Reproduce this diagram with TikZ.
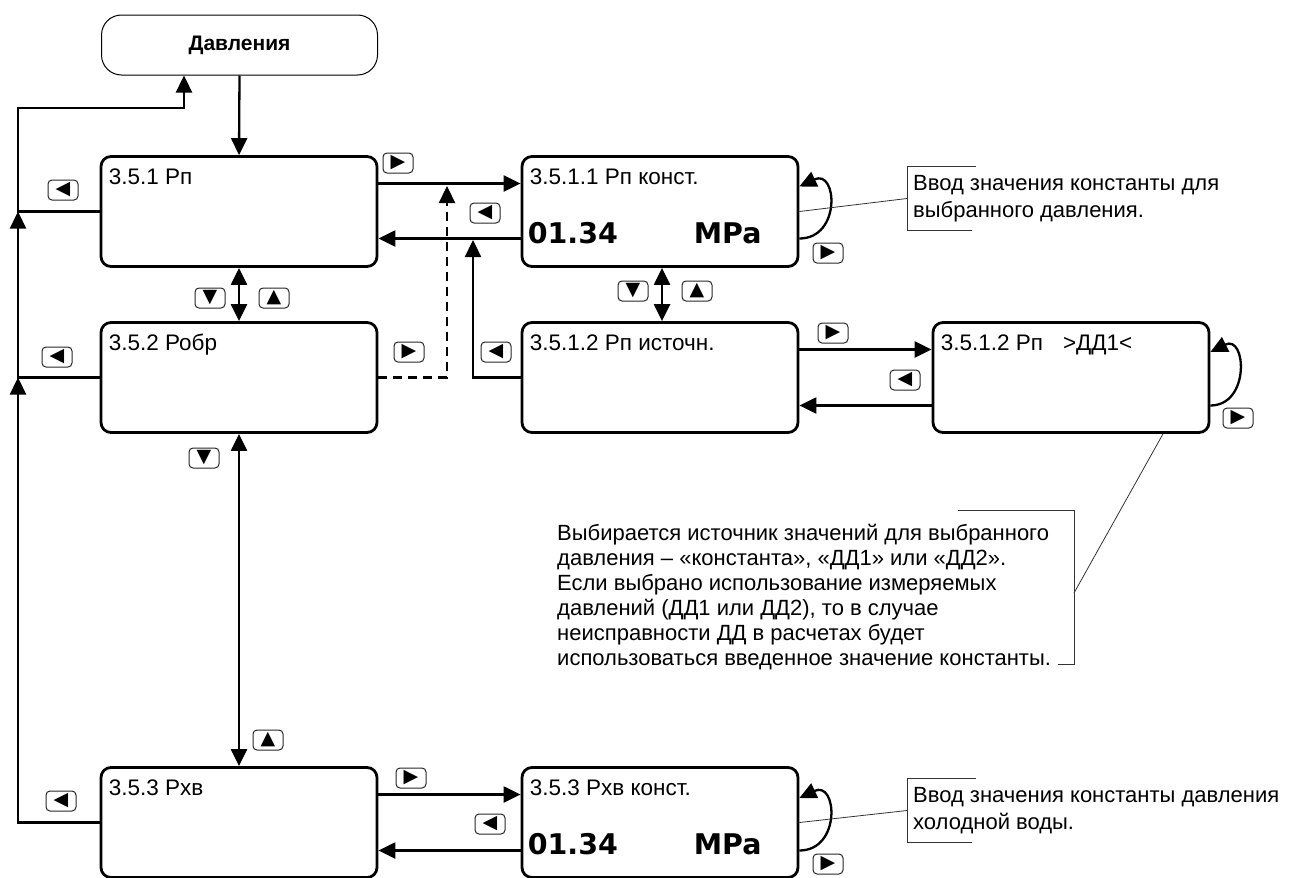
\documentclass[tikz,border=0pt]{standalone}
\usepackage{fontspec}
\setmainfont{Liberation Sans}
\newfontfamily\valfont{DejaVu Sans}
\newfontfamily\symfont{DejaVu Sans}
\usetikzlibrary{arrows.meta,positioning,calc}

\begin{document}
\begin{tikzpicture}[x=1pt, y=-1pt,
    screen/.style={draw, rounded corners=10pt, minimum width=276pt, minimum height=110pt, line width=2.8pt, inner sep=0pt},
    menu/.style={draw, rounded corners=20pt, minimum width=276pt, minimum height=60pt, line width=1pt, font=\fontsize{21}{25}\selectfont\bfseries},
    key/.style={draw=black!85, rounded corners=4pt, minimum width=30pt, minimum height=20pt, inner sep=0pt, line width=1pt, font=\symfont\fontsize{19}{19}\selectfont},
    title/.style={anchor=base west, inner sep=0pt, font=\fontsize{22.5}{26}\selectfont},
    value/.style={anchor=base west, inner sep=0pt, font=\valfont\bfseries\fontsize{28.5}{30}\selectfont},
    note/.style={align=left, inner sep=0pt, font=\fontsize{22}{27}\selectfont},
    callout/.style={draw=black!80, line width=0.8pt},
    arrow/.style={->, line width=2.3pt},
    >={Triangle[length=17pt,width=16pt]}
]
    \useasboundingbox (0,0) rectangle (1294,878);

    % меню
    \node[menu] (dav) at (239.5,45) {Давления};

    % экраны
    \node[screen] (p1) at (239,211.5) {};
    \node[screen] (p2) at (239,377.5) {};
    \node[screen] (p3) at (239,822.5) {};
    \node[screen] (k1) at (660,211.5) {};
    \node[screen] (src) at (660,377.5) {};
    \node[screen] (dd) at (1071,377.5) {};
    \node[screen] (k3) at (660,822.5) {};

    \node[title] (p1t) at ([shift={(9,29)}]p1.north west) {3.5.1 Рп};
    \node[title] (p2t) at ([shift={(9,29)}]p2.north west) {3.5.2 Робр};
    \node[title] (p3t) at ([shift={(9,29)}]p3.north west) {3.5.3 Рхв};
    \node[title] (k1t) at ([shift={(9,29)}]k1.north west) {3.5.1.1 Рп конст.};
    \node[title] (srct) at ([shift={(9,29)}]src.north west) {3.5.1.2 Рп источн.};
    \node[title] (ddt) at ([shift={(9,29)}]dd.north west) {3.5.1.2 Рп\hspace{20pt}>ДД1<};
    \node[title] (k3t) at ([shift={(9,29)}]k3.north west) {3.5.3 Рхв конст.};

    \node[value] (v1) at ([shift={(7,32)}]k1.west) {01.34};
    \node[value] (u1) at ([shift={(173,32)}]k1.west) {MPa};
    \node[value] (v3) at ([shift={(7,32)}]k3.west) {01.34};
    \node[value] (u3) at ([shift={(173,32)}]k3.west) {MPa};

    % вход и возврат
    \coordinate (rail) at (18,108);
    \draw[arrow] (dav.south) -- (p1.north);
    \draw[arrow] (p3.west) -| (rail |- p2.west);
    \draw[arrow] (p2.west) -| (rail |- p1.west);
    \draw[arrow] (p1.west) -| (rail) -| ([xshift=-55.5pt]dav.south);

    % вверх/вниз
    \draw[arrow, <->] (p1.south) -- (p2.north);
    \draw[arrow, <->] (p2.south) -- (p3.north);
    \draw[arrow, <->] ([xshift=2pt]k1.south) -- ([xshift=2pt]src.north);

    % вправо/влево
    \coordinate (dj) at (447,186);
    \coordinate (ej) at (473,240);
    \draw[arrow] ([yshift=28pt]p1.east) -- ([yshift=28pt]k1.west);
    \draw[arrow] ([yshift=-27pt]k1.west) -- ([yshift=-27pt]p1.east);
    \draw[arrow, dash pattern=on 9pt off 6pt] (p2.east) -| (dj);
    \draw[arrow] (src.west) -| (ej);
    \draw[arrow] ([yshift=28pt]src.east) -- ([yshift=28pt]dd.west);
    \draw[arrow] ([yshift=-28pt]dd.west) -- ([yshift=-28pt]src.east);
    \draw[arrow] ([yshift=28pt]p3.east) -- ([yshift=28pt]k3.west);
    \draw[arrow] ([yshift=-28pt]k3.west) -- ([yshift=-28pt]p3.east);

    % петли
    \draw[arrow] ([yshift=-27pt]k1.east) .. controls +(42,0) and +(38,-18) .. ([yshift=25pt]k1.east);
    \draw[arrow] ([yshift=-28pt]dd.east) .. controls +(40,0) and +(36,-18) .. ([yshift=25.5pt]dd.east);
    \draw[arrow] ([yshift=-28pt]k3.east) .. controls +(42,0) and +(38,-18) .. ([yshift=24.5pt]k3.east);

    % кнопки
    \node[key] (kl1) at (63,190) {◀};
    \node[key] (kl2) at (57,357) {◀};
    \node[key] (kl3) at (61,801) {◀};
    \node[key] (kr1) at (398,163) {▶};
    \node[key] (kl4) at (485,213) {◀};
    \node[key] (kr2) at (409,352) {▶};
    \node[key] (kl5) at (496,352) {◀};
    \node[key] (kd1) at (210,298) {▼};
    \node[key] (ku1) at (274,298) {▲};
    \node[key] (kd2) at (633,291) {▼};
    \node[key] (ku2) at (697,291) {▲};
    \node[key] (kr3) at (828,253) {▶};
    \node[key] (kr4) at (833,333) {▶};
    \node[key] (kl6) at (905,380) {◀};
    \node[key] (kr5) at (1238,418) {▶};
    \node[key] (kd3) at (204,458) {▼};
    \node[key] (ku3) at (268,740) {▲};
    \node[key] (kr6) at (411,778) {▶};
    \node[key] (kl7) at (490,824) {◀};
    \node[key] (kr7) at (828,864) {▶};

    % пояснения
    \node[note, anchor=west, minimum height=63pt, inner xsep=6pt] (n1) at (907,198.5) {Ввод значения константы для\\выбранного давления.};
    \draw[callout] ([xshift=69pt]n1.north west) -- (n1.north west) -- (n1.south west) -- ([xshift=65pt]n1.south west);
    \draw[callout] (n1.west) -- (k1.east);

    \node[note, anchor=west, minimum height=63pt, inner xsep=6pt] (n3) at (907,810.5) {Ввод значения константы давления\\холодной воды.};
    \draw[callout] ([xshift=69pt]n3.north west) -- (n3.north west) -- (n3.south west) -- ([xshift=65pt]n3.south west);
    \draw[callout] (n3.west) -- (k3.east);

    \node[note, anchor=north west, font=\fontsize{22}{25}\selectfont] (n2) at (557,524) {Выбирается источник значений для выбранного\\давления – «константа», «ДД1» или «ДД2».\\Если выбрано использование измеряемых\\давлений (ДД1 или ДД2), то в случае\\неисправности ДД в расчетах будет\\использоваться введенное значение константы.};
    \coordinate (n2b) at (1074,593);
    \draw[callout] (958,510) -- (1074,510) -- (1074,664) -- (1058,664);
    \draw[callout] (n2b) -- (dd.south -| 1163,0);
\end{tikzpicture}
\end{document}
